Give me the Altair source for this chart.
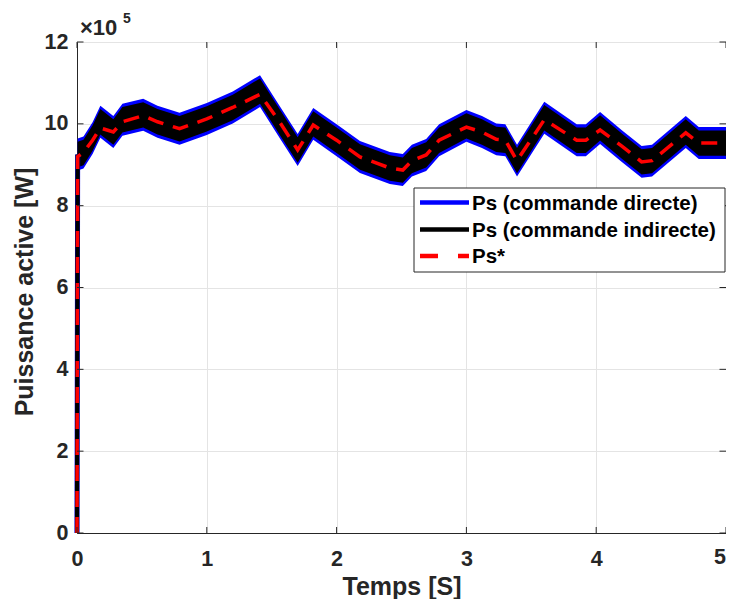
import altair as alt
import pandas as pd

# ---- data (values in units of 1e5 W) ----
t = [0.0, 0.005, 0.05, 0.12, 0.18, 0.28, 0.35, 0.51, 0.62, 0.79, 1.0, 1.2, 1.41,
     1.56, 1.70, 1.82, 2.0, 2.18, 2.41, 2.51, 2.58, 2.69, 2.79, 3.0, 3.12, 3.23, 3.3,
     3.39, 3.6, 3.85, 3.92, 4.03, 4.2, 4.35, 4.43, 4.69, 4.79, 5.0]
ps_ref = [0.0, 9.2, 9.3, 9.6, 9.9, 9.8, 10.05, 10.2, 10.05, 9.88, 10.12, 10.4, 10.72,
          10.05, 9.36, 9.97, 9.6, 9.19, 8.92, 8.87, 9.1, 9.24, 9.6, 9.92, 9.8, 9.62, 9.6,
          9.1, 10.1, 9.6, 9.6, 9.85, 9.45, 9.07, 9.1, 9.78, 9.53, 9.53]
ps_direct = [0.0, 9.25, 9.3, 9.65, 10.05, 9.8, 10.1, 10.22, 10.05, 9.88, 10.12, 10.4, 10.8,
             10.05, 9.36, 10.0, 9.6, 9.19, 8.92, 8.87, 9.1, 9.24, 9.6, 9.95, 9.8, 9.62, 9.6,
             9.1, 10.15, 9.6, 9.6, 9.9, 9.45, 9.07, 9.1, 9.8, 9.53, 9.53]
ps_indirect = ps_direct
ripple_direct = 0.39
ripple_indirect = 0.31

x_ticks = [0, 1, 2, 3, 4, 5]
y_ticks = [0, 2, 4, 6, 8, 10, 12]

names = ["Ps (commande directe)", "Ps (commande indirecte)", "Ps*"]
colors = ["#0000ff", "#000000", "#ff0000"]

W, H = 649, 491
FONT = "Liberation Sans"
DARK = "#262626"

# ---- tables ----
band_rows = []
for i in range(1, len(t)):
    band_rows.append({"t": t[i],
                      "dlo": ps_direct[i] - ripple_direct, "dhi": ps_direct[i] + ripple_direct,
                      "ilo": ps_indirect[i] - ripple_indirect, "ihi": ps_indirect[i] + ripple_indirect})
band = pd.DataFrame(band_rows)

line_rows = []
for k, series in enumerate([ps_direct, ps_indirect]):
    line_rows.append({"t": t[0], "v": series[0], "s": names[k], "o": 0})
    line_rows.append({"t": t[1], "v": series[1], "s": names[k], "o": 1})
for i in range(len(t)):
    line_rows.append({"t": t[i], "v": ps_ref[i], "s": names[2], "o": i})
lines = pd.DataFrame(line_rows)

xt = pd.DataFrame({"t": x_ticks})
yt = pd.DataFrame({"v": y_ticks})
last_x = pd.DataFrame({"t": [x_ticks[-1]], "lab": [str(x_ticks[-1])]})
one = pd.DataFrame({"a": [0]})

X = alt.X("t:Q", scale=alt.Scale(domain=[0, 5], nice=False, zero=False),
          axis=alt.Axis(values=x_ticks, format="d", title="Temps [S]", labelFlush=False,
                        labelExpr="datum.value == 5 ? '' : datum.label",
                        titleX=W / 2, titleY=61, titleBaseline="alphabetic",
                        titleAlign="center"))
yaxis = alt.Axis(values=y_ticks, format="d", title="Puissance active [W]", labelFlush=False,
                 titleX=-45, titleY=H / 2 + 4, titleAngle=-90,
                 titleAlign="center", titleBaseline="alphabetic")
yscale = alt.Scale(domain=[0, 12], nice=False)
Y = alt.Y("v:Q", scale=yscale, axis=yaxis)

blue_band = alt.Chart(band).mark_area(color="#0000ff", opacity=1).encode(
    x=X, y=alt.Y("dlo:Q", scale=yscale, axis=yaxis), y2="dhi:Q")
black_band = alt.Chart(band).mark_area(color="#000000", opacity=1).encode(
    x=X, y=alt.Y("ilo:Q"), y2="ihi:Q")

line_layer = alt.Chart(lines).mark_line(strokeCap="butt", strokeJoin="miter").encode(
    x=X, y=Y,
    color=alt.Color("s:N", scale=alt.Scale(domain=names, range=colors), legend=None),
    strokeDash=alt.StrokeDash("s:N", scale=alt.Scale(domain=names,
                                                     range=[[1, 0], [1, 0], [16, 10]]),
                              legend=None),
    strokeWidth=alt.StrokeWidth("s:N", scale=alt.Scale(domain=names, range=[5, 3.5, 4.5]),
                                legend=None),
    order="o:Q",
)

tick_style = dict(color=DARK, strokeWidth=1)
xb = alt.Chart(xt).mark_rule(**tick_style).encode(x=X, y=alt.value(H), y2=alt.value(H - 6))
xtop = alt.Chart(xt).mark_rule(**tick_style).encode(x=X, y=alt.value(0), y2=alt.value(6))
yl = alt.Chart(yt).mark_rule(**tick_style).encode(y=Y, x=alt.value(0), x2=alt.value(6.5))
yr = alt.Chart(yt).mark_rule(**tick_style).encode(y=Y, x=alt.value(W), x2=alt.value(W - 6.5))

# last x tick label, kept inside the drawing edge
last_lab = alt.Chart(last_x).mark_text(font=FONT, fontWeight="bold", color=DARK,
                                       align="right", baseline="alphabetic").encode(
    x=X, y=alt.value(H + 31), text="lab:N", size=alt.value(21.5))

mult = alt.Chart(one).mark_text(font=FONT, fontWeight="bold", color=DARK,
                                align="left", baseline="alphabetic").encode(
    x=alt.value(3), y=alt.value(-7), text=alt.value("×10"), size=alt.value(22))
expo = alt.Chart(one).mark_text(font=FONT, fontWeight="bold", color=DARK,
                                align="left", baseline="alphabetic").encode(
    x=alt.value(46), y=alt.value(-19), text=alt.value("5"), size=alt.value(14))

# ---- custom legend ----
LX0, LX1, LY0, LY1 = 337, 648, 146, 230
legend_box = alt.Chart(one).mark_rect(fill="white", stroke=DARK, strokeWidth=1).encode(
    x=alt.value(LX0), x2=alt.value(LX1), y=alt.value(LY0), y2=alt.value(LY1))
legend_layers = [legend_box]
row_y = [160.5, 187.5, 214]
dashes = [[1, 0], [1, 0], [18, 20]]
for k in range(3):
    legend_layers.append(
        alt.Chart(one).mark_rule(color=colors[k], strokeWidth=4.5, strokeDash=dashes[k],
                                 strokeCap="butt").encode(
            x=alt.value(343), x2=alt.value(392), y=alt.value(row_y[k]))
    )
    legend_layers.append(
        alt.Chart(one).mark_text(font=FONT, fontWeight="bold", color="#000000",
                                 align="left", baseline="middle").encode(
            x=alt.value(395), y=alt.value(row_y[k] + 1), text=alt.value(names[k]),
            size=alt.value(20.5))
    )

chart = alt.layer(blue_band, black_band, line_layer, xb, xtop, yl, yr, last_lab, mult, expo,
                  *legend_layers).properties(
    width=W, height=H,
    autosize=alt.AutoSizeParams(type="none"),
    padding={"left": 69, "top": 34, "right": 0, "bottom": 66},
).configure_view(stroke=DARK, strokeWidth=1).configure_axis(
    labelFont=FONT, labelFontSize=21.5, labelFontWeight="bold", labelColor=DARK,
    titleFont=FONT, titleFontSize=25, titleFontWeight="bold", titleColor=DARK,
    tickSize=0, domainColor=DARK, domainWidth=1, gridColor="#e4e4e4", gridWidth=1,
    labelOverlap=False,
).configure_axisX(labelPadding=15).configure_axisY(labelPadding=9)

chart.save("out.html", embed_options={"renderer": "svg", "actions": False})
